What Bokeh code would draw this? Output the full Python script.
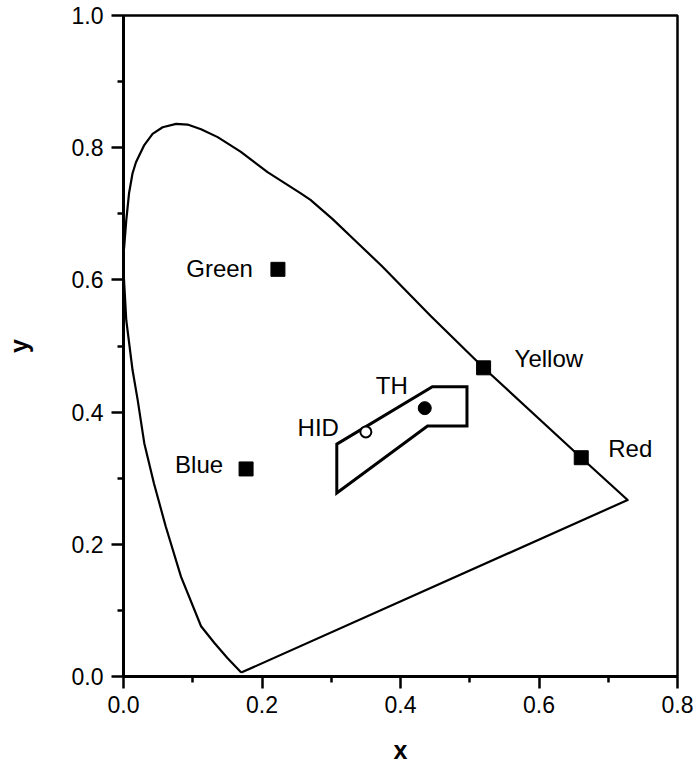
from bokeh.plotting import figure
from bokeh.models import FixedTicker, PrintfTickFormatter, ColumnDataSource
from bokeh.core.properties import value
from bokeh.embed import file_html
from bokeh.resources import INLINE

# Spectral locus (CIE 1931 chromaticity boundary)
locus_x = [0.170, 0.150, 0.131, 0.112, 0.083, 0.061, 0.044, 0.030, 0.0205, 0.013,
           0.004, 0.0005, 0.000, 0.001, 0.004, 0.008, 0.013, 0.018, 0.030, 0.042,
           0.0565, 0.076, 0.0925, 0.112, 0.136, 0.169, 0.208, 0.256, 0.270, 0.302,
           0.337, 0.373, 0.444, 0.520, 0.661, 0.728]
locus_y = [0.006, 0.028, 0.051, 0.076, 0.151, 0.227, 0.292, 0.353, 0.418, 0.464,
           0.539, 0.605, 0.640, 0.650, 0.690, 0.731, 0.761, 0.778, 0.804, 0.821,
           0.831, 0.836, 0.835, 0.828, 0.816, 0.794, 0.763, 0.731, 0.721, 0.692,
           0.657, 0.621, 0.545, 0.467, 0.331, 0.267]

# Primary colour points
prim_names = ["Green", "Blue", "Yellow", "Red"]
prim_x = [0.223, 0.177, 0.520, 0.661]
prim_y = [0.616, 0.314, 0.467, 0.331]

# Lamp points
hid_x, hid_y = [0.350], [0.370]
th_x, th_y = [0.435], [0.406]

# Region outline
region_x = [0.308, 0.446, 0.496, 0.496, 0.439, 0.308]
region_y = [0.3515, 0.4385, 0.4385, 0.379, 0.379, 0.2775]

FONT = "Liberation Sans"

p = figure(width=700, height=767, x_range=(0, 0.8), y_range=(0, 1.0),
           output_backend="svg", toolbar_location=None,
           min_border_left=123, min_border_right=23, min_border_top=15, min_border_bottom=91)
p.grid.visible = False
p.background_fill_color = "white"
p.border_fill_color = "white"
p.outline_line_color = "black"
p.outline_line_width = 2.5

p.xaxis.ticker = FixedTicker(ticks=[0, 0.2, 0.4, 0.6, 0.8], minor_ticks=[0.1, 0.3, 0.5, 0.7])
p.yaxis.ticker = FixedTicker(ticks=[0, 0.2, 0.4, 0.6, 0.8, 1.0], minor_ticks=[0.1, 0.3, 0.5, 0.7, 0.9])
for ax in (p.xaxis, p.yaxis):
    ax.formatter = PrintfTickFormatter(format="%.1f")
    ax.axis_line_width = 3
    ax.axis_line_color = "black"
    ax.major_tick_out = 12
    ax.major_tick_in = 0
    ax.minor_tick_out = 6
    ax.minor_tick_in = 0
    ax.major_tick_line_width = 2.5
    ax.minor_tick_line_width = 2.5
    ax.major_label_text_font = FONT
    ax.major_label_text_font_size = "23px"
    ax.major_label_text_color = "black"
    ax.axis_label_text_font = FONT
    ax.axis_label_text_font_size = "25px"
    ax.axis_label_text_font_style = "bold"
    ax.axis_label_text_color = "black"
p.xaxis.axis_label = "x"
p.yaxis.axis_label = "y"
p.xaxis.major_label_standoff = 7
p.yaxis.major_label_standoff = 8
p.xaxis.axis_label_standoff = 20
p.yaxis.axis_label_standoff = 36

# locus closed by the purple line
lx = locus_x + [locus_x[0]]
ly = locus_y + [locus_y[0]]
p.line(lx, ly, line_color="black", line_width=2.2, line_join="round")

p.patch(region_x, region_y, fill_alpha=0, line_color="black", line_width=3, line_join="miter")

p.scatter(prim_x, prim_y, marker="square", size=14, color="black")
p.scatter(th_x, th_y, marker="circle", size=13, color="black")
p.scatter(hid_x, hid_y, marker="circle", size=11, fill_color="white", line_color="black", line_width=2)

# labels, attached to their points with pixel offsets
lab_src = ColumnDataSource(dict(
    x=prim_x + hid_x + th_x,
    y=prim_y + hid_y + th_y,
    t=prim_names + ["HID", "TH"],
    dx=[-25, -23, 31, 27, -27, -17],
    dy=[-1, -4, -9, -9, -4, -23],
    al=["right", "right", "left", "left", "right", "right"],
))
p.text(x="x", y="y", text="t", x_offset="dx", y_offset="dy", text_align="al",
       text_baseline="alphabetic", source=lab_src, text_font=value(FONT),
       text_font_size=value("24px"), text_color="black")

open("out.html", "w").write(file_html(p, INLINE))
